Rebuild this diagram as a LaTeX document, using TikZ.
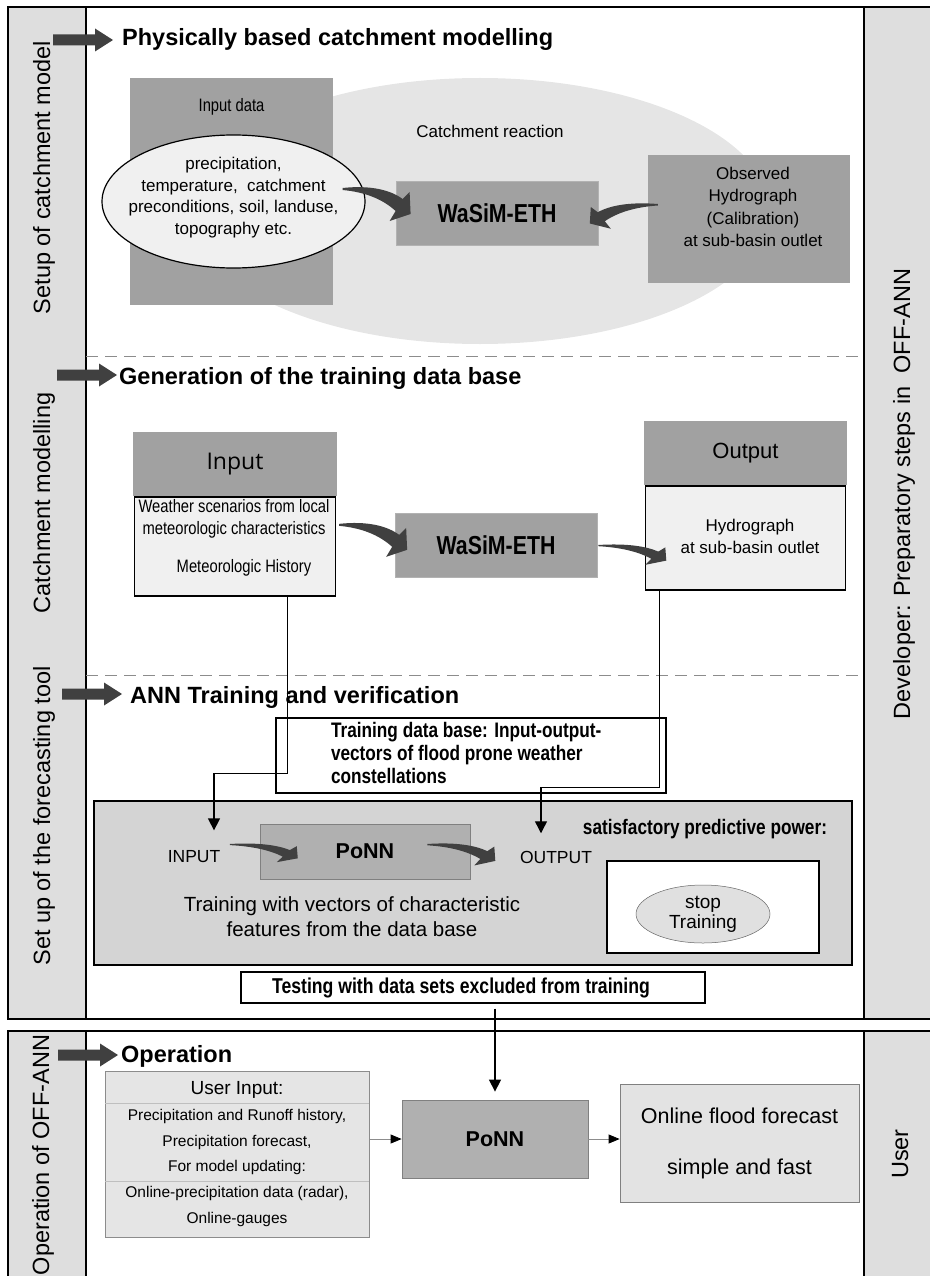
\documentclass[tikz,border=0pt]{standalone}
\usepackage{fontspec}
\setmainfont{Liberation Sans}
\newfontfamily\narrowfont[FakeStretch=0.82]{Liberation Sans}
\newfontfamily\opensansfont{Open Sans}
\usetikzlibrary{positioning,arrows.meta,shapes.geometric}
\newcommand\fsz[2]{\fontsize{#1}{#2}\selectfont}

\begin{document}
\begin{tikzpicture}[x=1pt,y=-1pt,
		frame/.style={draw=black,line width=1.6pt},
		strip/.style={fill=black!13,draw=black,line width=1.6pt},
		striplabel/.style={rotate=90,anchor=base,inner sep=0pt,font=\fsz{23.5}{28}},
		heading/.style={anchor=base west,inner sep=0pt,font=\bfseries\fsz{23.5}{28}},
		sep/.style={draw=black!45,line width=0.8pt,dash pattern=on 12pt off 7pt},
		darkbox/.style={rectangle,fill=black!37,draw=none,inner sep=0pt},
		litebox/.style={rectangle,draw=black,line width=1.3pt,fill=black!6,inner sep=0pt},
		wasim/.style={darkbox,draw=black!30,line width=0.6pt,minimum width=202,minimum height=64,font=\narrowfont\bfseries\fsz{26}{30}},
		flow/.style={draw=black,line width=1.3pt,-{Triangle[length=12pt,width=12pt]}},
		garrow/.style={draw=black!45,line width=0.8pt,-{Triangle[length=11pt,width=9pt,color=black]}},
		headarrow/.pic={\fill[black!75] (0,-5.5) -- (42,-5.5) -- (42,-11.5) -- (60,0) -- (42,11.5) -- (42,5.5) -- (0,5.5) -- cycle;},
		bendarrow/.pic={\fill[black!75] (0,0) .. controls (28,-3) and (48,2) .. (60,11) -- (67,4) -- (68,26) -- (47,33) -- (53,23) .. controls (40,11) and (22,4) .. (0,2) -- cycle;}
	]
	\useasboundingbox (0,0) rectangle (929,1276);

	% frames and side strips
	\draw[frame] (8,7) rectangle (945,1019);
	\filldraw[strip] (8,7) rectangle (86,1019);
	\filldraw[strip] (864,7) rectangle (945,1019);
	\draw[frame] (8,1031) rectangle (945,1290);
	\filldraw[strip] (8,1031) rectangle (86,1290);
	\filldraw[strip] (864,1031) rectangle (945,1290);
	\draw[sep] (86,356) -- (864,356);
	\draw[sep] (86,675) -- (864,675);

	\node[striplabel] (lblsetup) at (50,177.5) {Setup of catchment model};
	\node[striplabel] (lblmodel) at (50,503) {Catchment modelling};
	\node[striplabel] (lbltool) at (50,816) {Set up of the forecasting tool};
	\node[striplabel] (lbloper) at (49,1155) {Operation of OFF-ANN};
	\node[striplabel] (lbldev) at (910,494) {Developer: Preparatory steps in\ \ OFF-ANN};
	\node[striplabel] (lbluser) at (908,1154) {User};

	\pic at (53,40) {headarrow};
	\node[heading] (hdphys) at (122,46) {Physically based catchment modelling};
	\pic at (57,375) {headarrow};
	\node[heading] (hdgen) at (119,384) {Generation of the training data base};
	\pic at (62,694) {headarrow};
	\node[heading] (hdann) at (130,703) {ANN Training and verification};
	\pic at (58,1055) {headarrow};
	\node[heading] (hdoper) at (121,1062) {Operation};

	% physically based catchment modelling
	\node[ellipse,fill=black!10,minimum width=580,minimum height=266,inner sep=0pt] (catch) at (480,211) {};
	\node[font=\fsz{17}{20}] (catchtext) at (490,131) {Catchment reaction};
	\node[darkbox,minimum width=203,minimum height=227] (indata) at (231.5,191.5) {};
	\node[font=\narrowfont\fsz{18}{22},below=17pt of indata.north] (indatatext) {Input data};
	\node[ellipse,draw=black,line width=1.2pt,fill=black!6,minimum width=263,minimum height=133,inner sep=0pt] (params) at (233.5,201.5) {};
	\node[align=center,font=\fsz{17}{21.7}] (paramstext) at ([yshift=4]params.center) {precipitation,\\temperature,\ \ catchment\\preconditions, soil, landuse,\\topography etc.};
	\node[wasim] (wasimA) at (497,213) {WaSiM-ETH};
	\node[darkbox,minimum width=202,minimum height=128] (obs) at (749,219) {};
	\node[align=center,font=\fsz{17}{22.5}] (obstext) at ([xshift=4,yshift=12]obs.center) {Observed\\Hydrograph\\(Calibration)\\at sub-basin outlet};
	\pic at ([xshift=-23,yshift=13.5]params.east) {bendarrow};
	\pic[xscale=-1,yscale=0.75] at ([xshift=10,yshift=15]obs.west) {bendarrow};

	% training data base
	\node[darkbox,minimum width=204,minimum height=64,font=\opensansfont\fsz{23}{28}] (inhead) at (235,464) {Input};
	\node[litebox,minimum width=201,minimum height=99,anchor=north] (inbody) at (inhead.south) {};
	\node[align=center,font=\narrowfont\fsz{18}{22}] (inweather) at (234,519) {Weather scenarios from local\\meteorologic characteristics};
	\node[font=\narrowfont\fsz{18}{22}] (inhistory) at (244,568) {Meteorologic History};
	\node[wasim] (wasimB) at (496,545) {WaSiM-ETH};
	\node[darkbox,minimum width=203,minimum height=64,font=\fsz{22}{26}] (outhead) at (745.5,453) {Output};
	\node[litebox,minimum width=200,minimum height=104,anchor=north] (outbody) at (outhead.south) {};
	\node[align=center,font=\fsz{17}{22}] (outtext) at (750,536) {Hydrograph\\at sub-basin outlet};
	\pic at ([xshift=3,yshift=22.5]inbody.east) {bendarrow};
	\pic[yscale=0.6] at ([xshift=1]wasimB.east) {bendarrow};

	% ANN training
	\node[litebox,fill=white,minimum width=390,minimum height=75] (tdb) at (471,755.5) {};
	\node[text width=280,align=flush left,inner sep=0pt,font=\narrowfont\bfseries\fsz{21}{23}] (tdbtext) at (471,753) {Training data base: Input-output-\\vectors of flood prone weather\\constellations};
	\node[litebox,fill=black!17,minimum width=758,minimum height=164] (train) at (473,883) {};
	\node[font=\fsz{17.5}{21}] (inlab) at (194,857) {INPUT};
	\node[rectangle,fill=black!31,draw=black!50,line width=0.6pt,minimum width=210,minimum height=55,inner sep=0pt,font=\bfseries\fsz{21.5}{26}] (ponnA) at (365,851.5) {PoNN};
	\node[font=\fsz{17.5}{21}] (outlab) at (556,857) {OUTPUT};
	\node[font=\narrowfont\bfseries\fsz{21}{25}] (satis) at (705,829) {satisfactory predictive power:};
	\node[litebox,fill=white,minimum width=212,minimum height=92] (stopbox) at (713,907) {};
	\node[ellipse,draw=black!60,line width=0.5pt,fill=black!12,minimum width=134,minimum height=58,inner sep=0pt,align=center,font=\fsz{19}{20}] (stop) at (703,914) {stop\\Training};
	\node[align=center,font=\fsz{20.5}{25}] (trtext) at (352,917) {Training with vectors of characteristic\\features from the data base};
	\node[litebox,fill=white,minimum width=464,minimum height=31,font=\narrowfont\bfseries\fsz{21.5}{25}] (test) at (473,987.5) {Testing with data sets excluded from training\hspace*{24pt}};
	\pic[yscale=0.55] at ([xshift=6,yshift=13]inlab.east) {bendarrow};
	\pic[yscale=0.65] at ([xshift=-43,yshift=7.5]ponnA.east) {bendarrow};

	\draw[flow] ([xshift=52.5]inbody.south) -- ++(0,177) -| ([xshift=20,yshift=17]inlab.north);
	\draw[flow] ([xshift=-86]outbody.south) -- ++(0,197) -| ([xshift=-15,yshift=14]outlab.north);

	% operation
	\node[rectangle,draw=black!45,fill=black!10,line width=0.8pt,minimum width=264,minimum height=166,inner sep=0pt,align=center,font=\fsz{15.5}{25.8}] (userin) at (237,1154) {{\fsz{19}{25.8}User Input:}\\Precipitation and Runoff history,\\Precipitation forecast,\\For model updating:\\Online-precipitation data (radar),\\Online-gauges};
	\draw[draw=black!25,line width=0.6pt] ([yshift=-33]userin.north west) -- ([yshift=-33]userin.north east);
	\draw[draw=black!25,line width=0.6pt] ([yshift=-111]userin.north west) -- ([yshift=-111]userin.north east);
	\node[rectangle,fill=black!31,draw=black!50,line width=0.8pt,minimum width=186,minimum height=78,inner sep=0pt,font=\bfseries\fsz{21.5}{26}] (ponnB) at (495,1139) {PoNN};
	\node[rectangle,draw=black!50,fill=black!11,line width=0.8pt,minimum width=239,minimum height=118,inner sep=0pt,align=center,font=\fsz{21.5}{51}] (online) at (739.5,1143) {Online flood forecast\\simple and fast};

	\draw[flow,shorten <=5pt,shorten >=8pt] (test.south -| ponnB.north) -- (ponnB.north);
	\draw[garrow] (userin.east |- ponnB.west) -- (ponnB.west);
	\draw[garrow] (ponnB.east) -- (online.west |- ponnB.east);
\end{tikzpicture}
\end{document}
